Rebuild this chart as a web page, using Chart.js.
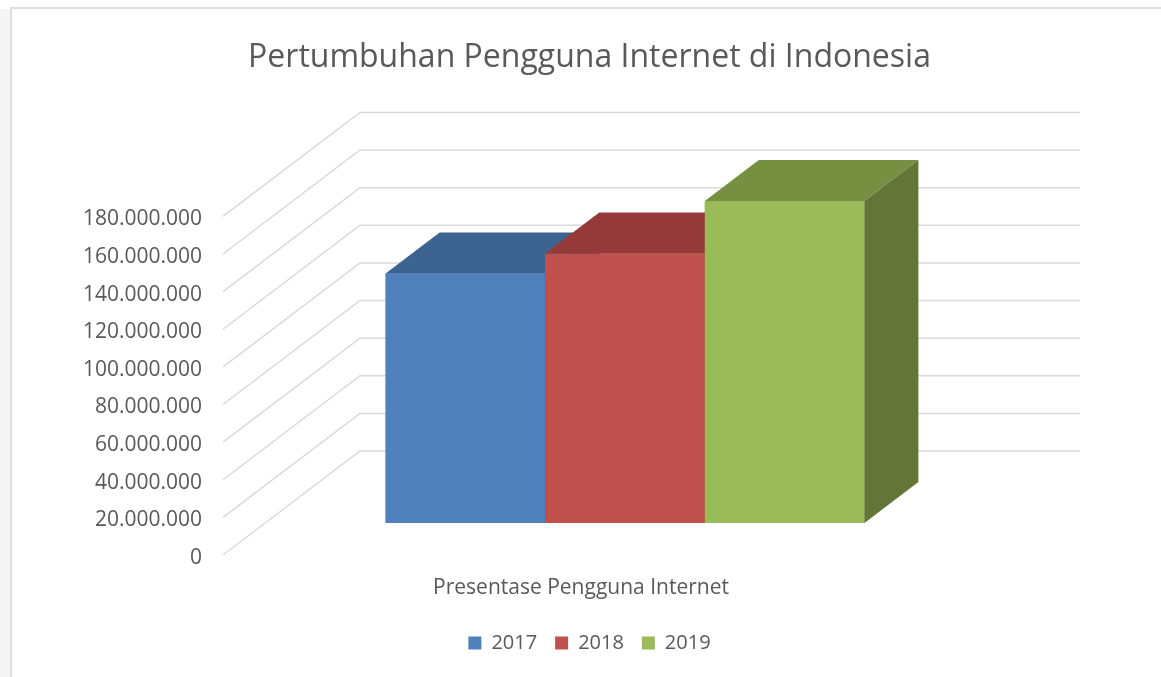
<!DOCTYPE html>
<html>
<head>
<meta charset="utf-8">
<title>Pertumbuhan Pengguna Internet di Indonesia</title>
<script src="https://cdn.jsdelivr.net/npm/chart.js@4.4.1/dist/chart.umd.min.js"></script>
<style>
    html, body { margin: 0; padding: 0; background: #fff; }
    body { width: 1161px; height: 677px; position: relative; overflow: hidden; }
    .strip { position: absolute; left: 0; top: 9px; width: 10px; height: 668px; background: #f4f4f4; }
    .frame-top { position: absolute; left: 10px; top: 7px; width: 1151px; height: 2px; background: #dcdcdc; }
    .frame-left { position: absolute; left: 10px; top: 7px; width: 2px; height: 670px; background: #dcdcdc; }
    #chart { position: absolute; left: 0; top: 0; }
</style>
</head>
<body>
<div class="strip"></div>
<div class="frame-top"></div>
<div class="frame-left"></div>
<canvas id="chart" width="1161" height="677"></canvas>
<script>
// Data
const categories = ['Presentase Pengguna Internet'];
const seriesLabels = ['2017', '2018', '2019'];
const users2017 = [132700000];
const users2018 = [143260000];
const users2019 = [171170000];
const yMax = 180000000;
const yStep = 20000000;

// Excel-like 3D colours: front, top, side
const FRONT = ['#4f81bd', '#c0504d', '#9bbb59'];
const TOP = ['#3d6491', '#953a38', '#778f41'];
const SIDE = ['#34557d', '#7f3130', '#637537'];
const TEXT = '#595959';

// depth offsets in pixels
const DEPTH_X = 54, DEPTH_Y = 41;   // bar depth
const FRONT_X = 42, FRONT_Y = 32;   // floor front edge, from bar plane
const WALL_X = 95, WALL_Y = 72;     // back wall, from bar plane

Chart.defaults.font.family = '"Open Sans", "DejaVu Sans", sans-serif';

function fmt(v) {
    return String(v).replace(/\B(?=(\d{3})+(?!\d))/g, '.');
}

function poly(ctx, pts, color) {
    ctx.beginPath();
    ctx.moveTo(pts[0][0], pts[0][1]);
    for (let i = 1; i < pts.length; i++) ctx.lineTo(pts[i][0], pts[i][1]);
    ctx.closePath();
    ctx.fillStyle = color;
    ctx.fill();
}

// gridlines on the floor edge and back wall
const wallGrid = {
    id: 'wallGrid',
    beforeDatasetsDraw(chart) {
        const { ctx, chartArea: a, scales: { y } } = chart;
        ctx.save();
        ctx.strokeStyle = '#d9d9d9';
        ctx.lineWidth = 1.5;
        y.ticks.forEach(t => {
            const py = y.getPixelForValue(t.value);
            ctx.beginPath();
            ctx.moveTo(a.left - FRONT_X, py + FRONT_Y);
            ctx.lineTo(a.left + WALL_X, py - WALL_Y);
            ctx.lineTo(a.right + WALL_X, py - WALL_Y);
            ctx.stroke();
        });
        ctx.restore();
    }
};

// repaint bars left to right as boxes (front, top, side)
const bars3d = {
    id: 'bars3d',
    afterDatasetsDraw(chart) {
        const ctx = chart.ctx;
        const bars = [];
        chart.data.datasets.forEach((ds, i) => {
            chart.getDatasetMeta(i).data.forEach(el => bars.push({ el, i }));
        });
        bars.sort((a, b) => a.el.x - b.el.x);
        ctx.save();
        bars.forEach(({ el, i }) => {
            const { x, y, base, width } = el.getProps(['x', 'y', 'base', 'width'], true);
            const l = x - width / 2, r = x + width / 2;
            poly(ctx, [[l, y], [r, y], [r, base], [l, base]], FRONT[i]);
            poly(ctx, [[l, y], [r, y], [r + DEPTH_X, y - DEPTH_Y], [l + DEPTH_X, y - DEPTH_Y]], TOP[i]);
            poly(ctx, [[r, y], [r + DEPTH_X, y - DEPTH_Y], [r + DEPTH_X, base - DEPTH_Y], [r, base]], SIDE[i]);
        });
        ctx.restore();
    }
};

const series = [users2017, users2018, users2019];

new Chart(document.getElementById('chart').getContext('2d'), {
    type: 'bar',
    data: {
        labels: categories,
        datasets: series.map((d, i) => ({
            label: seriesLabels[i],
            data: d,
            backgroundColor: FRONT[i],
            borderWidth: 0,
            categoryPercentage: 0.665,
            barPercentage: 1.0,
        }))
    },
    options: {
        responsive: false,
        animation: false,
        layout: { padding: { left: 18, right: 0, top: 0, bottom: 14 } },
        plugins: {
            title: {
                display: true,
                text: 'Pertumbuhan Pengguna Internet di Indonesia',
                color: TEXT,
                font: { size: 32, weight: 'normal' },
                padding: { top: 39, bottom: 107 }
            },
            legend: {
                position: 'bottom',
                labels: {
                    boxWidth: 13,
                    boxHeight: 13,
                    padding: 18,
                    color: TEXT,
                    font: { size: 20 }
                }
            },
            tooltip: { enabled: false }
        },
        scales: {
            x: {
                grid: { display: false },
                border: { display: false },
                ticks: { color: TEXT, font: { size: 21 }, padding: 44, labelOffset: -44, maxRotation: 0 },
                afterFit(s) { s.height = 92; }
            },
            y: {
                min: 0,
                max: yMax,
                grid: { display: false },
                border: { display: false },
                ticks: {
                    stepSize: yStep,
                    color: TEXT,
                    font: { size: 21 },
                    padding: 55,
                    labelOffset: 35,
                    callback: v => fmt(v)
                },
                afterFit(s) { s.width = 247; }
            },
            y2: {
                type: 'linear',
                position: 'right',
                grid: { display: false },
                border: { display: false },
                ticks: { display: false },
                afterFit(s) { s.width = 176; }
            }
        }
    },
    plugins: [wallGrid, bars3d]
});
</script>
</body>
</html>
